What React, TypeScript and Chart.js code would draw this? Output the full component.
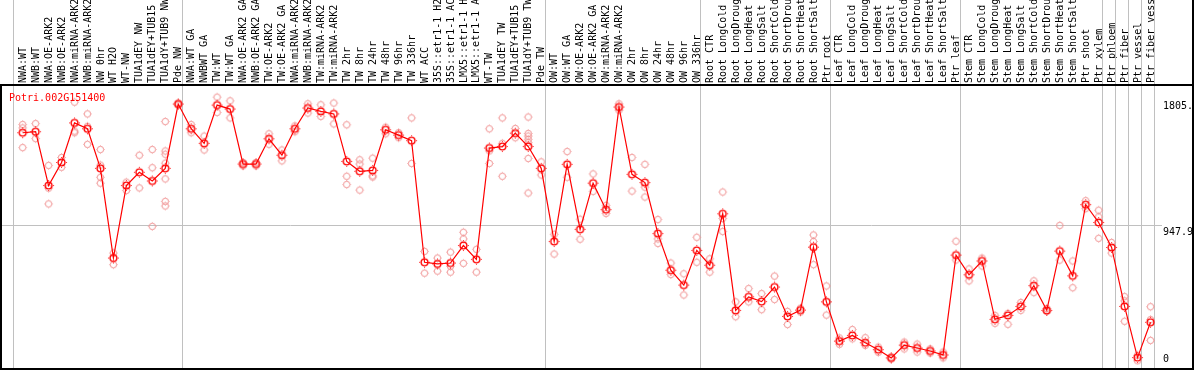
import { useEffect, useRef } from 'react';
import { Chart, registerables } from 'chart.js';

Chart.register(...registerables);

const GENE = 'Potri.002G151400';

const CATEGORIES = [
  'NWA:WT', 'NWB:WT', 'NWA:OE-ARK2', 'NWB:OE-ARK2', 'NWA:miRNA-ARK2', 'NWB:miRNA-ARK2', 'NW 0hr', 'WT H2O', 'WT-NW',
  'TUA1dEY NW', 'TUA1dEY+TUB15 NW', 'TUA1dY+TUB9 NW', 'Pde NW',
  'NWA:WT GA', 'NWBWT GA', 'TW:WT', 'TW:WT GA', 'NWA:OE-ARK2 GA', 'NWB:OE-ARK2 GA', 'TW:OE-ARK2', 'TW:OE-ARK2 GA',
  'NWA:miRNA-ARK2', 'NWB:miRNA-ARK2', 'TW:miRNA-ARK2', 'TW:miRNA-ARK2', 'TW 2hr', 'TW 8hr', 'TW 24hr', 'TW 48hr',
  'TW 96hr', 'TW 336hr', 'WT ACC', '35S::etr1-1 H2O', '35S::etr1-1 ACC', 'LMX5::etr1-1 H2O', 'LMX5::etr1-1 ACC',
  'WT-TW', 'TUA1dEY TW', 'TUA1dEY+TUB15 TW', 'TUA1dY+TUB9 TW', 'Pde TW',
  'OW:WT', 'OW:WT GA', 'OW:OE-ARK2', 'OW:OE-ARK2 GA', 'OW:miRNA-ARK2', 'OW:miRNA-ARK2', 'OW 2hr', 'OW 8hr',
  'OW 24hr', 'OW 48hr', 'OW 96hr', 'OW 336hr',
  'Root CTR', 'Root LongCold', 'Root LongDrought', 'Root LongHeat', 'Root LongSalt', 'Root ShortCold',
  'Root ShortDrought', 'Root ShortHeat', 'Root ShortSalt', 'Ptr root',
  'Leaf CTR', 'Leaf LongCold', 'Leaf LongDrought', 'Leaf LongHeat', 'Leaf LongSalt', 'Leaf ShortCold',
  'Leaf ShortDrought', 'Leaf ShortHeat', 'Leaf ShortSalt', 'Ptr leaf',
  'Stem CTR', 'Stem LongCold', 'Stem LongDrought', 'Stem LongHeat', 'Stem LongSalt', 'Stem ShortCold',
  'Stem ShortDrought', 'Stem ShortHeat', 'Stem ShortSalt', 'Ptr shoot', 'Ptr xylem',
  'Ptr phloem', 'Ptr fiber', 'Ptr vessel', 'Ptr fiber vessel',
];

const MEANS = [
  1578, 1585, 1219, 1376, 1645, 1605, 1336, 726, 1219, 1309, 1250, 1336, 1773,
  1605, 1506, 1766, 1739, 1365, 1365, 1537, 1425, 1605, 1746, 1723, 1706, 1383, 1316, 1322, 1598,
  1562, 1524, 697, 686, 692, 811, 717, 1474, 1484, 1575, 1484, 1336,
  838, 1363, 921, 1235, 1055, 1753, 1295, 1239, 892, 643, 542, 778,
  677, 1027, 370, 462, 430, 529, 329, 372, 800, 428,
  161, 200, 150, 103, 47, 134, 114, 94, 67, 746,
  612, 706, 309, 336, 397, 538, 370, 773, 605, 1089, 968,
  798, 397, 49, 289,
];

const SAMPLES = [
  [1634, 1611, 1477], [1640, 1538], [1356, 1201, 1094], [1410, 1343], [1786, 1589, 1578], [1706, 1622, 1499],
  [1464, 1358, 1275, 1235], [760, 681], [1242, 1185], [1425, 1203], [1464, 1340, 941],
  [1654, 1454, 1432, 1371, 1264, 1111, 1080], [1780, 1766],
  [1634, 1578], [1555, 1461], [1820, 1716], [1795, 1679], [1376, 1353], [1376, 1353], [1571, 1499], [1461, 1387],
  [1625, 1585], [1775, 1712], [1768, 1689], [1780, 1638], [1632, 1282, 1226], [1394, 1365, 1188], [1405, 1277, 1285],
  [1616, 1571], [1578, 1544], [1679, 1369], [771, 623], [726, 637], [766, 670, 630], [901, 856, 690], [785, 630],
  [1605, 1454, 1369], [1679, 1506, 1282], [1607, 1544], [1685, 1573, 1555, 1533, 1511, 1403, 1168], [1380, 1291],
  [887, 753], [1450, 1275], [990, 854], [1298, 1179], [1084, 1029], [1775, 1731], [1410, 1181], [1363, 1208, 1141],
  [988, 856, 825], [692, 614], [619, 475], [867, 697],
  [721, 630], [1175, 995, 906], [428, 327], [518, 428], [484, 375], [603, 444], [363, 274], [385, 359],
  [883, 838, 681], [536, 338],
  [183, 139], [240, 177], [184, 132], [121, 85], [54, 40], [155, 108], [141, 87], [108, 80], [87, 47], [840, 713],
  [652, 571], [726, 672], [336, 282], [350, 275], [424, 370], [571, 491], [383, 363], [948, 712], [706, 524],
  [1116, 1062], [1051, 1006, 860],
  [832, 760], [464, 435, 296], [65, 27], [395, 307, 166],
];

const GROUP_BOUNDARIES = [0, 13, 41, 53, 63, 73, 84, 85, 86, 87, 88];
const Y_MAX = 1895.8;
const Y_TICKS = [0, 947.9, 1805];
const Y_TICK_LABELS = ['0', '947.9', '1805.'];
const Y_GRID = [947.9];

const FONT = '"DejaVu Sans Mono", "Liberation Mono", monospace';
const SEP_SHIFT = -0.715;

function makeMarker(color: string, lw: number, r: number, spikeAlpha: number) {
  const c = document.createElement('canvas');
  c.width = 13;
  c.height = 13;
  const g = c.getContext('2d')!;
  g.strokeStyle = color;
  g.lineWidth = lw;
  g.beginPath();
  g.arc(6.5, 6.5, r, 0, Math.PI * 2);
  g.stroke();
  g.globalAlpha = spikeAlpha;
  g.fillStyle = color;
  const o = Math.round(6.5 - r - lw / 2);
  g.fillRect(6, o - 1, 1, 1);
  g.fillRect(6, 13 - o, 1, 1);
  g.fillRect(o - 1, 6, 1, 1);
  g.fillRect(13 - o, 6, 1, 1);
  return c;
}

const framePlugin = {
  id: 'framePlugin',
  beforeDatasetsDraw(chart: any) {
    const { ctx, scales } = chart;
    const x = scales.x;
    const y = scales.y;
    ctx.save();
    ctx.strokeStyle = '#c0c0c0';
    ctx.lineWidth = 1;
    for (const b of GROUP_BOUNDARIES) {
      const px = Math.round(x.getPixelForValue(b + SEP_SHIFT)) + 0.5;
      ctx.beginPath();
      ctx.moveTo(px, 0);
      ctx.lineTo(px, chart.height);
      ctx.stroke();
    }
    for (const g of Y_GRID) {
      const py = Math.round(y.getPixelForValue(g)) + 0.5;
      ctx.beginPath();
      ctx.moveTo(0, py);
      ctx.lineTo(1162, py);
      ctx.stroke();
    }
    ctx.restore();
  },
  afterDraw(chart: any) {
    const { ctx, scales } = chart;
    const y = scales.y;
    const W = chart.width;
    const H = chart.height;
    ctx.save();
    ctx.fillStyle = '#000';
    ctx.fillRect(0, 84, W, 2);
    ctx.fillRect(0, 86, 2, H - 86);
    ctx.fillRect(0, 368, W, 2);
    ctx.fillRect(W - 2, 0, 2, H);
    ctx.font = `10px ${FONT}`;
    ctx.textBaseline = 'alphabetic';
    ctx.textAlign = 'left';
    Y_TICKS.forEach((v, i) => {
      const py = y.getPixelForValue(v);
      const by = v === 0 ? py - 3 : py + 10;
      ctx.fillText(Y_TICK_LABELS[i], 1163, by);
    });
    ctx.fillStyle = '#ff0000';
    ctx.fillText(GENE, 9, 101);
    ctx.restore();
  },
};

export default function App() {
  const ref = useRef<HTMLCanvasElement>(null);
  useEffect(() => {
    const canvas = ref.current;
    if (!canvas) return;
    const meanMarker = makeMarker('#ff0000', 1.4, 3.4, 0.8);
    const sampleMarker = makeMarker('#f09494', 1, 3.2, 0.6);
    const meanData = MEANS.map((v, i) => ({ x: i, y: v }));
    const sampleData: { x: number; y: number }[] = [];
    SAMPLES.forEach((arr, i) => arr.forEach((v) => sampleData.push({ x: i, y: v })));
    const chart = new Chart(canvas, {
      type: 'line',
      data: {
        datasets: [
          {
            label: 'samples',
            data: sampleData,
            showLine: false,
            pointStyle: sampleMarker as any,
            pointRadius: 4,
            order: 2,
          },
          {
            label: GENE,
            data: meanData,
            borderColor: '#ff0000',
            borderWidth: 1.2,
            pointStyle: meanMarker as any,
            pointRadius: 4,
            order: 1,
          },
        ],
      },
      options: {
        animation: false,
        responsive: false,
        devicePixelRatio: 1,
        layout: { padding: { left: 2, right: 0, top: 0, bottom: 1 } },
        plugins: {
          legend: { display: false },
          tooltip: { enabled: false },
          title: { display: false },
        },
        scales: {
          x: {
            type: 'linear',
            position: 'top',
            min: -1.34615,
            max: 87.3462,
            afterBuildTicks: (s: any) => {
              s.ticks = CATEGORIES.map((_, i) => ({ value: i }));
            },
            afterFit: (s: any) => {
              s.height = 86;
              s.paddingLeft = 0;
              s.paddingRight = 0;
            },
            ticks: {
              autoSkip: false,
              minRotation: 90,
              maxRotation: 90,
              padding: 3,
              labelOffset: 12.5,
              color: '#000',
              font: { family: FONT, size: 10 },
              callback: (v: any) => CATEGORIES[v] ?? '',
            },
            grid: { display: false, drawTicks: false },
            border: { display: false },
          },
          y: {
            type: 'linear',
            position: 'right',
            min: 0,
            max: Y_MAX,
            afterBuildTicks: (s: any) => {
              s.ticks = Y_TICKS.map((v) => ({ value: v }));
            },
            afterFit: (s: any) => {
              s.width = 39;
            },
            ticks: { display: false },
            grid: { display: false, drawTicks: false },
            border: { display: false },
          },
        },
      },
      plugins: [framePlugin],
    });
    return () => chart.destroy();
  }, []);
  return (
    <div style={{ position: 'fixed', left: 0, top: 0, width: 1194, height: 370, background: '#fff' }}>
      <canvas ref={ref} width={1194} height={370} style={{ display: 'block', width: 1194, height: 370 }} />
    </div>
  );
}
